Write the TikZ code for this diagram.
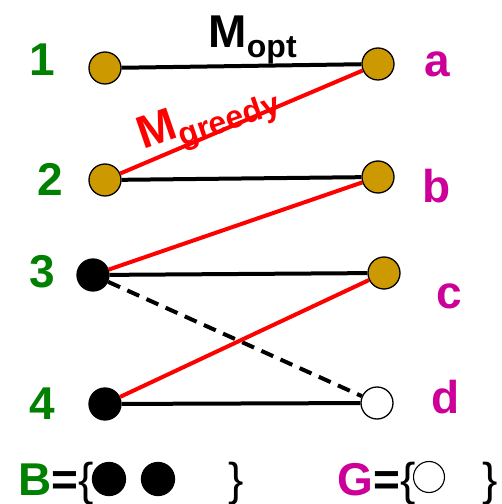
\documentclass[tikz,border=0pt]{standalone}
\usepackage{fontspec}
\setmainfont{Liberation Sans}
\begin{document}
\begin{tikzpicture}[x=1pt,y=1pt]
\definecolor{gold}{RGB}{204,153,0}
\definecolor{lblgreen}{RGB}{0,128,0}
\definecolor{lblmag}{RGB}{204,0,153}
\tikzset{
  vtx/.style={circle,draw=black,line width=1.3pt,minimum size=32pt,inner sep=0pt},
  goldv/.style={vtx,fill=gold},
  blackv/.style={vtx,fill=black},
  whitev/.style={vtx,fill=white},
  big/.style={font=\fontsize{46}{46}\selectfont\bfseries,inner sep=0pt},
  sub/.style={font=\fontsize{32}{32}\selectfont\bfseries,inner sep=0pt},
  lg/.style={big,text=lblgreen,anchor=base},
  lm/.style={big,text=lblmag,anchor=base},
  brace/.style={inner sep=0pt,font=\fontsize{46}{46}\selectfont},
  blkline/.style={line width=4pt,draw=black},
  redline/.style={line width=4pt,draw=red},
}
\useasboundingbox (0,0) rectangle (502,504);
% vertices
\node[goldv] (v1) at (105,436) {};
\node[goldv] (va) at (378,440) {};
\node[goldv] (v2) at (105,324) {};
\node[goldv] (vb) at (378,327) {};
\node[blackv] (v3) at (93,229) {};
\node[goldv] (vc) at (384,231) {};
\node[blackv] (v4) at (105,100) {};
\node[whitev] (vd) at (377,101) {};
% edges
\draw[blkline] (v1) -- (va);
\draw[blkline] (v2) -- (vb);
\draw[blkline] (v3) -- (vc);
\draw[blkline] (v4) -- (vd);
\draw[line width=4pt,dash pattern=on 13pt off 8pt] (v3) -- (vd);
\draw[redline] (v2) -- (va);
\draw[redline] (v3) -- (vb);
\draw[redline] (v4) -- (vc);
% labels
\node[lg] (l1) at (42,428) {1};
\node[lg] (l2) at (50,308) {2};
\node[lg] (l3) at (42,216) {3};
\node[lg] (l4) at (42,84) {4};
\node[lm] (la) at (437,427) {a};
\node[lm] (lb) at (437,301) {b};
\node[lm] (lc) at (449,195) {c};
\node[lm] (ld) at (446,90) {d};
% matching labels
\node[big,anchor=base west] (mopt) at (208,456) {M};
\node[sub,anchor=base west,yshift=-10pt] (opt) at (mopt.base east) {opt};
\node[text=red,rotate=19,inner sep=0pt,anchor=base west] (mg) at (143,354)
  {{\fontsize{46}{46}\selectfont\bfseries M}\raisebox{-10pt}{\fontsize{32}{32}\selectfont\bfseries greedy}};
% legend
\node[big,text=lblgreen,anchor=base west] (B) at (18,9) {B};
\node[brace,anchor=base west] (Beq) at (B.base east) {\textbf{=}\{};
\node[blackv,minimum size=33pt] (b1) at (109,25) {};
\node[blackv,minimum size=33pt] (b2) at (158,25) {};
\node[brace,anchor=base] (Bcl) at (236,9) {\}};
\node[big,text=lblmag,anchor=base west] (G) at (337,9) {G};
\node[brace,anchor=base west] (Geq) at (G.base east) {\textbf{=}\{};
\node[whitev,line width=1.1pt,minimum size=31pt] (g1) at (429,27) {};
\node[brace,anchor=base] (Gcl) at (490,9) {\}};
\end{tikzpicture}
\end{document}
